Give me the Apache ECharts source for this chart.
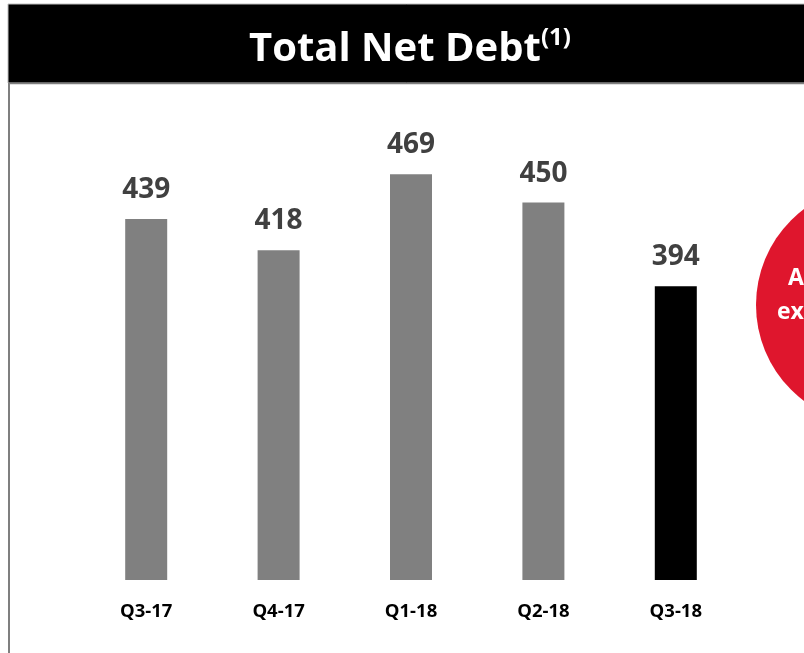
<!DOCTYPE html>
<html>
<head>
<meta charset="utf-8">
<script src="https://cdn.jsdelivr.net/npm/echarts@6/dist/echarts.min.js"></script>
<style>
html,body{margin:0;padding:0;background:#fff;}
#chart{width:804px;height:653px;}
</style>
</head>
<body>
<div id="chart"></div>
<script>
const categories = ['Q3-17', 'Q4-17', 'Q1-18', 'Q2-18', 'Q3-18'];
const netDebt = [439, 418, 469, 450, 394];
const barColors = ['#808080', '#808080', '#808080', '#808080', '#000000'];
const titleMain = 'Total Net Debt';
const titleNote = '(1)';
const bubbleLines = ['A', 'ex'];

const FONT = "'Open Sans', 'Noto Sans', sans-serif";
const chart = echarts.init(document.getElementById('chart'), null, {renderer: 'canvas'});

chart.setOption({
  animation: false,
  backgroundColor: '#ffffff',
  graphic: [
    {type: 'rect', shape: {x: 8, y: 4, width: 800, height: 79}, style: {fill: '#000', stroke: '#bfbfbf', lineWidth: 1}, z: 0},
    {type: 'line', shape: {x1: 9, y1: 83, x2: 9, y2: 660}, style: {stroke: '#7f7f7f', lineWidth: 2}, z: 1},
    {type: 'line', shape: {x1: 8, y1: 83.5, x2: 810, y2: 83.5}, style: {stroke: '#7f7f7f', lineWidth: 1.5}, z: 1},
    {type: 'circle', shape: {cx: 876, cy: 305, r: 120}, style: {fill: '#DF162D'}, z: 1},
    {type: 'text', x: 788, y: 278, style: {text: bubbleLines[0], fill: '#fff', font: 'bold 23px ' + FONT, textVerticalAlign: 'middle', textAlign: 'left'}, z: 2},
    {type: 'text', x: 777, y: 312, style: {text: bubbleLines[1], fill: '#fff', font: 'bold 23px ' + FONT, textVerticalAlign: 'middle', textAlign: 'left'}, z: 2}
  ],
  title: {
    text: '{a|' + titleMain + '}{b|' + titleNote + '}',
    left: 249,
    top: 26,
    padding: 0,
    textStyle: {
      rich: {
        a: {fontFamily: FONT, fontWeight: 'bold', fontSize: 40, color: '#fff', lineHeight: 44, verticalAlign: 'bottom'},
        b: {fontFamily: FONT, fontWeight: 'bold', fontSize: 24, color: '#fff', lineHeight: 26, verticalAlign: 'top'}
      }
    }
  },
  grid: {left: 80, right: 62, top: 128, bottom: 73, containLabel: false},
  xAxis: {
    type: 'category',
    data: categories,
    axisLine: {show: false},
    axisTick: {show: false},
    axisLabel: {margin: 22, color: '#000', fontFamily: FONT, fontWeight: 'bold', fontSize: 18.5}
  },
  yAxis: {
    type: 'value',
    min: 197,
    max: 500,
    show: false,
    splitLine: {show: false}
  },
  series: [{
    type: 'bar',
    data: netDebt.map((v, i) => ({value: v, itemStyle: {color: barColors[i]}})),
    barWidth: 42,
    label: {
      show: true,
      position: 'top',
      distance: 15,
      color: '#404040',
      fontFamily: FONT,
      fontWeight: 'bold',
      fontSize: 28
    }
  }]
});
</script>
</body>
</html>
